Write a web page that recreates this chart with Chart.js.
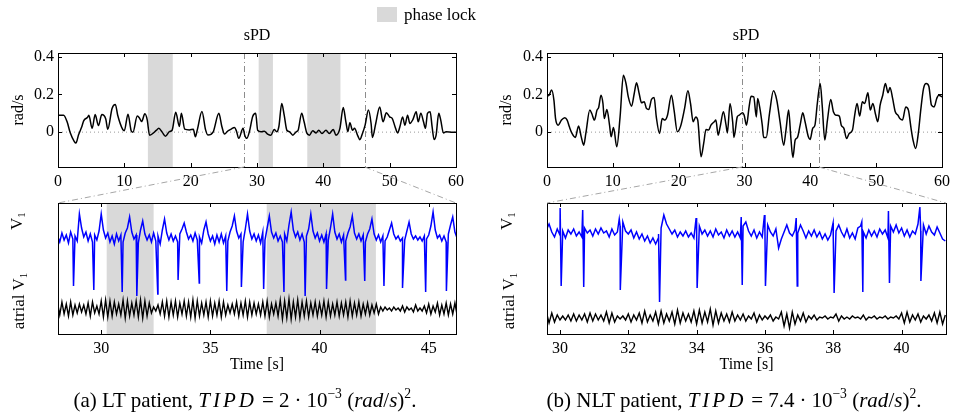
<!DOCTYPE html>
<html>
<head>
<meta charset="utf-8">
<script src="https://cdn.jsdelivr.net/npm/chart.js@4.4.0/dist/chart.umd.min.js"></script>
<style>
body { margin: 0; background: #fff; }
#page { position: relative; width: 955px; height: 414px; font-family: "Liberation Serif", "Times New Roman", serif; color: #000; overflow: hidden; }
canvas { position: absolute; }
.txt { position: absolute; white-space: nowrap; transform: translate(-50%, -50%); line-height: 1; }
.rot { transform: translate(-50%, -50%) rotate(-90deg); }
.math { font-style: italic; letter-spacing: 3px; }
.op { margin: 0 5px; }
sup { font-size: 0.65em; vertical-align: 0.6em; line-height: 0; }
sub { font-size: 0.65em; vertical-align: -0.3em; line-height: 0; }
#overlay { left: 0; top: 0; pointer-events: none; }
</style>
</head>
<body>
<div id="page">
  <canvas id="ltTop" width="480" height="190" style="left:0;top:0"></canvas>
  <canvas id="nltTop" width="475" height="190" style="left:480px;top:0"></canvas>
  <canvas id="ltZoom" width="480" height="224" style="left:0;top:190px"></canvas>
  <canvas id="nltZoom" width="475" height="224" style="left:480px;top:190px"></canvas>
  <canvas id="overlay" width="955" height="414"></canvas>

  <div style="position:absolute;left:377px;top:7px;width:20px;height:15px;background:#d9d9d9"></div>
  <div class="txt" style="left:440px;top:14px;font-size:17px">phase lock</div>
  <div class="txt" style="left:257px;top:35px;font-size:16px">sPD</div>
  <div class="txt" style="left:746px;top:35px;font-size:16px">sPD</div>

  <div class="txt rot" style="left:16px;top:221px;font-size:17px">V<sub>1</sub></div>
  <div class="txt rot" style="left:18px;top:301px;font-size:17px">atrial V<sub>1</sub></div>
  <div class="txt rot" style="left:506px;top:221px;font-size:17px">V<sub>1</sub></div>
  <div class="txt rot" style="left:508px;top:301px;font-size:17px">atrial V<sub>1</sub></div>

  <div class="txt" style="left:245px;top:400px;font-size:21px">(a) LT patient, <span class="math">TIPD</span><span class="op">=</span>2<span class="op">·</span>10<sup>−3</sup> (<i>rad</i>/<i>s</i>)<sup>2</sup>.</div>
  <div class="txt" style="left:734px;top:400px;font-size:21px">(b) NLT patient, <span class="math">TIPD</span><span class="op">=</span>7.4<span class="op">·</span>10<sup>−3</sup> (<i>rad</i>/<i>s</i>)<sup>2</sup>.</div>
</div>

<script>
// ---- data ----
const spdTicksX = [0, 10, 20, 30, 40, 50, 60];
const spdTicksY = [0, 0.2, 0.4];
const ltZoomTicks = [30, 35, 40, 45];
const nltZoomTicks = [30, 32, 34, 36, 38, 40];

// zoomed time windows (s)
const ltWindow = [28.02, 46.25];
const nltWindow = [29.62, 41.3];

// phase lock intervals (LT patient)
const ltLockStart = [13.55, 30.25, 37.58];
const ltLockEnd = [17.3, 32.4, 42.58];

// sPD, LT patient (rad/s)
const ltSpdTime = [0, 0.85, 1.36, 1.86, 2.46, 2.7, 3.1, 3.6, 3.87, 4.47, 4.65, 5.15, 5.6, 6.1, 6.6, 7.2, 7.5, 8.15, 8.65, 9.0,
  9.75, 10.0, 10.55, 11.05, 11.3, 11.95, 12.3, 12.6, 13.1, 13.45, 13.8, 14.3, 14.8, 15.2, 15.7, 16.2, 16.8, 17.2, 17.75, 18.3,
  18.6, 19.1, 19.8, 20.4, 20.7, 21.0, 21.7, 22.25, 22.6, 23.4, 24.25, 24.7, 25.1, 25.6, 26.1, 26.6, 26.9, 27.25, 27.9, 28.15,
  28.45, 28.85, 29.35, 29.8, 30.1, 30.6, 31.1, 31.6, 32.1, 32.6, 32.97, 33.3, 33.73, 34.1, 34.5, 34.9, 35.4, 35.9, 36.2, 36.74,
  37.1, 37.5, 37.9, 38.4, 38.9, 39.3, 39.8, 40.4, 40.9, 41.5, 41.9, 42.5, 43.0, 43.4, 43.7, 44.0, 44.4, 44.7, 45.2, 45.5,
  45.9, 46.3, 46.8, 47.2, 47.4, 47.9, 48.5, 49.0, 49.5, 50.0, 50.4, 50.8, 51.2, 51.55, 51.95, 52.3, 52.7, 53.05, 53.5, 54.0,
  54.3, 54.7, 55.1, 55.4, 55.7, 56.1, 56.4, 56.7, 57.0, 57.4, 57.7, 58.1, 58.5, 59.5, 60];
const ltSpdValue = [0.09, 0.09, 0.056, -0.005, -0.05, -0.058, -0.014, 0.03, 0.06, 0.079, 0.09, 0.02, 0.093, 0.035, 0.093, 0.07, 0.015, 0.126, 0.147, 0.09,
  0.015, 0.008, 0.095, 0.006, 0.0, 0.085, 0.074, 0.056, 0.097, 0.065, -0.016, -0.007, 0.009, 0.02, 0.0, -0.022, 0.003, 0.01, 0.105, 0.03,
  0.1, 0.016, 0.012, 0.016, -0.025, 0.012, 0.11, 0.012, -0.015, 0.002, 0.1, 0.03, -0.01, 0.006, 0.016, 0.025, 0.006, -0.033, 0.02, -0.016,
  -0.033, 0.002, 0.083, 0.1, 0.01, 0.002, 0.005, -0.01, -0.016, 0.014, 0.002, 0.03, 0.152, 0.09, 0.01, 0.002, -0.016, 0.002, 0.01, 0.1,
  0.055, -0.004, -0.016, 0.007, -0.004, 0.01, -0.007, 0.01, -0.007, 0.014, -0.016, 0.02, 0.131, 0.055, 0.002, 0.05, 0.01, 0.02, -0.02, -0.04,
  -0.007, 0.037, 0.117, 0.046, -0.028, 0.046, 0.134, 0.055, 0.103, 0.081, 0.072, 0.03, -0.004, 0.03, 0.081, 0.037, 0.09, 0.046, 0.067, 0.108,
  0.055, 0.1, 0.055, 0.02, 0.1, 0.108, 0.028, -0.039, -0.016, 0.1, 0.064, -0.004, 0.002, 0, 0];

// sPD, NLT patient (rad/s)
const nltSpdTime = [0, 0.3, 0.7, 1.05, 1.3, 1.7, 2.2, 2.7, 3.06, 3.4, 3.8, 4.3, 4.8, 5.2, 5.57, 5.9, 6.5, 6.8, 7.2, 7.6,
  7.85, 8.2, 8.5, 8.7, 9.1, 9.5, 9.74, 10.1, 10.6, 11.1, 11.6, 12.0, 12.35, 12.85, 13.25, 13.6, 14.0, 14.35, 14.76, 15.1,
  15.46, 15.86, 16.27, 16.6, 17.1, 17.5, 17.9, 18.3, 18.9, 19.3, 19.8, 20.3, 20.9, 21.4, 21.8, 22.2, 22.6, 22.9, 23.4, 23.8,
  24.15, 24.55, 24.9, 25.4, 25.65, 26.0, 26.3, 26.8, 27.2, 27.4, 27.8, 28.2, 28.4, 28.9, 29.2, 29.7, 29.95, 30.3, 30.7, 31.0,
  31.4, 31.8, 32.0, 32.3, 32.7, 32.9, 33.3, 33.8, 34.4, 34.9, 35.4, 35.95, 36.3, 36.7, 37.05, 37.35, 37.7, 38.05, 38.45, 38.85,
  39.2, 39.7, 39.96, 40.36, 40.7, 41.06, 41.5, 41.8, 42.2, 42.6, 43.1, 43.5, 43.9, 44.4, 44.7, 45.1, 45.5, 45.9, 46.4, 46.7,
  47.1, 47.5, 47.9, 48.25, 48.75, 49.1, 49.5, 49.9, 50.25, 50.6, 51.0, 51.4, 51.8, 52.1, 52.5, 52.9, 53.3, 53.6, 54.0, 54.5,
  54.9, 55.3, 55.6, 56.0, 56.4, 56.8, 57.2, 57.6, 58.0, 58.4, 58.8, 59.2, 59.5, 60.0];
const nltSpdValue = [0.19, 0.195, 0.223, 0.17, 0.072, 0.037, 0.064, 0.076, 0.064, 0.028, -0.007, -0.028, 0.032, -0.025, -0.069, -0.007, 0.117, 0.099, 0.064, 0.117,
  0.131, 0.196, 0.152, 0.072, 0.12, 0.037, -0.025, 0.025, -0.078, 0.081, 0.302, 0.258, 0.187, 0.138, 0.205, 0.262, 0.205, 0.156, 0.161, 0.126,
  0.12, 0.173, 0.184, 0.081, -0.007, 0.072, 0.064, 0.09, 0.196, 0.117, 0.002, 0.032, 0.126, 0.219, 0.152, 0.055, 0.081, 0.064, -0.131, -0.06,
  0.014, 0.011, 0.037, 0.055, 0.064, -0.016, 0.028, 0.108, 0.037, -0.004, 0.152, 0.055, -0.028, 0.081, 0.09, 0.103, 0.09, 0.037, 0.134, 0.19,
  0.187, 0.081, 0.179, 0.134, 0.037, -0.028, -0.028, 0.1, 0.219, 0.17, 0.055, -0.069, 0.011, 0.117, -0.034, -0.134, -0.042, -0.028, 0.037, 0.103,
  0.055, -0.025, -0.039, 0.02, 0.037, 0.152, 0.258, 0.143, -0.042, 0.064, 0.173, 0.108, 0.09, 0.085, 0.037, 0.02, -0.034, -0.007, 0.011, 0.081,
  0.152, 0.085, 0.161, 0.152, 0.209, 0.117, 0.152, 0.095, 0.055, 0.143, 0.196, 0.258, 0.209, 0.237, 0.179, 0.108, 0.09, 0.072, 0.064, 0.134,
  0.117, 0.02, -0.042, -0.087, -0.007, 0.126, 0.232, 0.258, 0.244, 0.143, 0.134, 0.179, 0.196, 0.187];

// LT ECG, sampled every 0.1 s from 28.0 s (arbitrary units, V1 trace offset above atrial trace)
const ltStart = 28.0;
const ltStep = 0.1;
const ltV1 = [
  9.8, 9.2, 10.1, 9.4, 9.9, 9.1, 10.2, 9.5, 9.8, 9.3,
  12.0, 10.6, 9.7, 10.2, 9.3, 10.0, 9.2, 9.9, 9.4, 10.3,
  12.0, 10.4, 9.6, 10.1, 9.2, 9.8, 9.0, 10.0, 9.3, 9.9,
  9.2, 10.1, 10.6, 11.7, 10.2, 9.5, 9.9, 9.1, 10.4, 11.3,
  10.0, 9.4, 9.9, 9.2, 10.1, 9.3, 9.8, 9.0, 10.4, 11.5,
  10.1, 9.4, 10.0, 9.3, 9.8, 9.2, 10.0, 10.5, 11.1, 10.2,
  9.5, 9.9, 9.3, 10.1, 9.4, 9.7, 9.1, 10.4, 11.2, 10.0,
  9.3, 9.8, 9.0, 9.9, 9.2, 10.0, 9.1, 9.8, 9.3, 10.2,
  10.8, 11.8, 10.3, 9.6, 10.0, 9.2, 10.5, 12.0, 10.3, 9.5,
  10.0, 9.3, 9.9, 9.1, 10.2, 9.4, 10.6, 11.8, 10.2, 9.6,
  10.1, 9.3, 9.8, 9.2, 10.0, 9.3, 10.9, 12.2, 10.4, 9.7,
  10.2, 9.4, 10.0, 9.2, 9.8, 10.5, 12.0, 10.3, 9.6, 10.1,
  9.3, 9.9, 9.2, 10.0, 9.4, 10.6, 12.0, 10.2, 9.5, 10.0,
  9.2, 9.9, 9.3, 10.1, 10.7, 11.8, 10.1, 9.5, 10.0, 9.3,
  9.9, 9.2, 10.0, 10.5, 11.5, 10.0, 9.4, 9.9, 9.2, 9.8,
  9.3, 9.7, 10.4, 11.1, 10.0, 9.5, 9.8, 9.3, 9.6, 9.4,
  10.3, 11.2, 10.0, 9.5, 9.8, 9.4, 9.7, 9.3, 9.8, 9.5,
  9.9, 10.8, 12.2, 10.4, 9.6, 9.9, 9.3, 9.8, 9.2, 10.0,
  10.9, 11.7, 10.2, 9.6];
const ltAtrial = [
  3.1, 1.9, 3.2, 2.0, 3.0, 1.8, 3.2, 1.9, 2.9, 2.1,
  3.0, 2.2, 2.9, 2.0, 3.1, 1.8, 3.2, 2.1, 2.8, 2.0,
  3.3, 1.7, 3.4, 1.7, 3.3, 1.8, 3.2, 2.0, 3.0, 1.9,
  3.4, 1.6, 3.3, 1.8, 3.1, 1.9, 3.3, 1.7, 3.4, 1.6,
  3.3, 1.8, 3.1, 2.1, 2.7, 2.3, 2.9, 2.0, 3.2, 1.8,
  3.3, 1.7, 3.2, 1.9, 3.3, 1.7, 3.1, 2.0, 3.3, 1.8,
  3.2, 1.7, 3.4, 1.6, 3.3, 1.8, 3.1, 1.9, 3.2, 1.7,
  3.3, 1.8, 3.1, 1.9, 3.3, 1.7, 3.2, 1.9, 2.9, 2.1,
  3.0, 2.0, 3.2, 1.8, 3.1, 1.9, 3.3, 1.7, 3.2, 1.9,
  3.1, 2.0, 3.0, 1.9, 3.2, 1.8, 3.3, 1.7, 3.0, 2.0,
  3.1, 1.8, 3.4, 1.5, 3.3, 1.6, 3.5, 1.5, 3.2, 1.7,
  3.4, 1.6, 3.2, 1.8, 3.3, 1.7, 3.1, 1.9, 3.2, 1.8,
  3.1, 1.9, 3.3, 1.7, 3.2, 1.8, 3.0, 1.9, 3.2, 1.8,
  3.1, 1.9, 3.2, 1.7, 3.3, 1.8, 3.1, 1.9, 3.2, 1.8,
  3.0, 2.0, 3.1, 1.9, 2.9, 2.1, 3.0, 2.0, 2.7, 2.3,
  2.7, 2.4, 2.6, 2.3, 2.7, 2.4, 2.6, 2.3, 2.8, 2.2,
  2.7, 2.4, 2.6, 2.2, 2.9, 2.3, 2.6, 2.3, 2.8, 2.1,
  3.0, 2.0, 2.8, 2.2, 3.1, 1.9, 2.9, 2.0, 3.1, 1.9,
  3.0, 2.0, 3.1, 1.9];
const ltSpikeTime = [28.73, 29.66, 30.96, 31.63, 32.59, 33.52, 34.49, 35.75, 36.42, 37.44, 38.37, 39.34, 40.32, 41.19, 42.07, 42.95, 43.8, 44.86, 45.81];
const ltSpikeDepth = [4.8, 4.4, 4.2, 3.8, 4.0, 5.4, 5.1, 4.3, 4.7, 4.5, 4.2, 3.8, 4.5, 5.4, 5.3, 4.8, 4.6, 4.2, 4.3];

// NLT ECG, sampled every 0.08 s from 29.6 s
const nltStart = 29.6;
const nltStep = 0.08;
const nltV1 = [
  10.4, 11.0, 10.2, 9.7, 10.5, 9.9, 10.3, 9.6, 10.4, 10.0,
  10.5, 9.8, 10.2, 9.7, 10.6, 10.1, 10.4, 9.8, 10.5, 10.0,
  10.6, 10.1, 10.3, 9.7, 10.5, 9.9, 10.2, 10.8, 11.2, 10.3,
  10.0, 10.4, 9.6, 10.2, 9.5, 10.0, 9.3, 9.8, 9.1, 9.6,
  9.0, 9.6, 10.6, 11.9, 11.0, 10.5, 10.0, 10.4, 9.7, 10.2,
  9.8, 10.3, 9.7, 10.1, 9.6, 10.3, 10.8, 10.0, 10.4, 9.8,
  10.3, 9.7, 10.5, 9.9, 10.2, 9.6, 10.4, 9.8, 10.3, 9.7,
  10.2, 9.6, 10.8, 11.2, 10.3, 9.8, 10.4, 9.6, 10.2, 9.7,
  10.3, 10.9, 10.2, 9.8, 10.5, 8.6, 9.5, 10.2, 10.9, 10.1,
  9.8, 10.4, 10.1, 10.9, 10.3, 9.6, 10.3, 9.8, 10.4, 9.7,
  10.2, 9.5, 10.0, 9.4, 9.9, 9.6, 10.3, 10.9, 10.2, 9.7,
  10.5, 9.6, 10.1, 9.5, 10.6, 10.8, 10.2, 9.6, 10.4, 9.8,
  10.3, 9.7, 10.5, 10.0, 10.4, 9.6, 10.8, 10.2, 10.9, 10.1,
  10.6, 9.8, 10.4, 9.7, 10.3, 10.0, 11.0, 10.3, 10.9, 10.0,
  10.8, 10.2, 9.9, 10.7, 10.1, 9.5, 9.3];
const nltAtrial = [
  2.2, 1.1, 2.1, 1.2, 1.9, 1.4, 1.8, 1.4, 1.9, 1.3,
  2.0, 1.3, 1.9, 1.4, 2.0, 1.2, 2.1, 1.3, 2.0, 1.4,
  1.9, 1.3, 2.2, 1.1, 2.1, 1.2, 1.8, 1.5, 1.8, 1.4,
  2.0, 1.2, 1.9, 1.4, 2.1, 1.1, 2.3, 1.2, 1.9, 1.3,
  2.2, 1.0, 2.3, 1.1, 2.0, 1.3, 2.2, 1.0, 2.4, 1.1,
  2.1, 1.3, 2.0, 1.2, 2.3, 1.0, 2.4, 1.1, 2.2, 1.2,
  2.5, 0.9, 2.3, 1.1, 2.1, 1.3, 2.0, 1.2, 2.2, 1.3,
  1.9, 1.4, 2.0, 1.3, 1.8, 1.5, 2.1, 1.2, 1.9, 1.4,
  1.8, 1.5, 1.9, 1.3, 1.7, 1.5, 2.2, 0.8, 2.0, 0.6,
  2.2, 1.0, 1.9, 1.3, 2.1, 1.2, 1.8, 1.5, 1.9, 1.4,
  1.7, 1.6, 1.8, 1.5, 1.7, 1.6, 2.0, 1.3, 1.8, 1.5,
  1.7, 1.5, 1.8, 1.6, 1.7, 1.5, 1.9, 1.4, 1.7, 1.6,
  1.8, 1.5, 1.7, 1.6, 1.8, 1.5, 1.7, 1.6, 1.8, 1.5,
  2.1, 1.1, 2.2, 1.2, 1.9, 1.4, 2.0, 1.2, 1.8, 1.5,
  1.9, 1.3, 2.1, 1.1, 2.2, 1.0, 1.9];
const nltSpikeTime = [30.02, 30.68, 31.75, 32.9, 34.0, 35.32, 36.0, 36.93, 38.01, 38.85, 39.63, 40.55];
const nltSpikeTop = [12.6, 12.4, 11.5, 10.0, 11.6, 11.7, 11.9, 11.6, 11.1, 11.2, 12.3, 12.7];
const nltSpikeDepth = [4.8, 4.7, 4.4, 3.2, 4.6, 4.9, 4.8, 4.8, 4.1, 4.2, 5.1, 5.3];

// ---- helpers ----
const FONT = "Liberation Serif";
const DASH_DOT = [6, 3, 1, 3];

function pairs(xs, ys) {
  return xs.map((x, i) => ({ x: x, y: ys[i] }));
}

function sampled(start, step, values) {
  return values.map((v, i) => ({ x: +(start + i * step).toFixed(3), y: v }));
}

// merge QRS spikes into the sampled V1 trace
function withSpikes(base, times, depths, tops) {
  const pts = base.slice();
  times.forEach((t, i) => {
    if (tops) pts.push({ x: t - 0.015, y: tops[i] });
    pts.push({ x: tops ? t + 0.015 : t, y: depths[i] });
  });
  return pts.sort((a, b) => a.x - b.x);
}

// gray phase-lock bands, drawn under the data
const lockPlugin = {
  id: 'lockBands',
  beforeDatasetsDraw(chart, args, opts) {
    const { ctx, chartArea: a, scales: { x } } = chart;
    ctx.save();
    if (opts.starts) {
      ctx.fillStyle = '#d9d9d9';
      opts.starts.forEach((s, i) => {
        const x0 = Math.max(a.left, x.getPixelForValue(s));
        const x1 = Math.min(a.right, x.getPixelForValue(opts.ends[i]));
        if (x1 > x0) ctx.fillRect(x0, a.top, x1 - x0, a.height);
      });
    }
    if (opts.window) {
      ctx.strokeStyle = '#8c8c8c';
      ctx.lineWidth = 1;
      ctx.setLineDash(DASH_DOT);
      opts.window.forEach(t => {
        const px = Math.round(x.getPixelForValue(t)) + 0.5;
        ctx.beginPath();
        ctx.moveTo(px, a.top);
        ctx.lineTo(px, a.bottom);
        ctx.stroke();
      });
    }
    ctx.restore();
  }
};

// matlab-like box with inward ticks
const framePlugin = {
  id: 'frame',
  afterDraw(chart, args, opts) {
    const { ctx, chartArea: a, scales } = chart;
    const L = 4;
    ctx.save();
    ctx.strokeStyle = '#000';
    ctx.lineWidth = 1;
    ctx.strokeRect(Math.round(a.left) + 0.5, Math.round(a.top) + 0.5, Math.round(a.width), Math.round(a.height));
    ctx.beginPath();
    scales.x.ticks.forEach(t => {
      const px = Math.round(scales.x.getPixelForValue(t.value)) + 0.5;
      ctx.moveTo(px, a.bottom); ctx.lineTo(px, a.bottom - L);
      ctx.moveTo(px, a.top); ctx.lineTo(px, a.top + L);
    });
    if (opts.yTicks) {
      scales.y.ticks.forEach(t => {
        const py = Math.round(scales.y.getPixelForValue(t.value)) + 0.5;
        ctx.moveTo(a.left, py); ctx.lineTo(a.left + L, py);
        ctx.moveTo(a.right, py); ctx.lineTo(a.right - L, py);
      });
    }
    ctx.stroke();
    ctx.restore();
  }
};

function makeChart(id, c) {
  return new Chart(document.getElementById(id), {
    type: 'line',
    data: { datasets: c.datasets },
    options: {
      responsive: false,
      animation: false,
      layout: { padding: c.padding },
      elements: { point: { radius: 0 } },
      plugins: {
        legend: { display: false },
        tooltip: { enabled: false },
        lockBands: { starts: c.lockStart, ends: c.lockEnd, window: c.window },
        frame: { yTicks: c.yTicks }
      },
      scales: {
        x: {
          type: 'linear', min: c.xMin, max: c.xMax,
          grid: { display: false, drawTicks: false },
          border: { display: false },
          afterBuildTicks: s => { s.ticks = c.xTicks.map(v => ({ value: v })); },
          afterFit: s => { s.height = c.xHeight; },
          ticks: { font: { family: FONT, size: 16 }, color: '#000', padding: 5, maxRotation: 0, autoSkip: false, callback: v => String(v) },
          title: c.xTitle ? { display: true, text: c.xTitle, color: '#000', font: { family: FONT, size: 16 }, padding: { top: 0, bottom: 40 } } : { display: false }
        },
        y: {
          min: c.yMin, max: c.yMax,
          grid: { display: false, drawTicks: false },
          border: { display: false },
          afterBuildTicks: s => { if (c.yTicks) s.ticks = c.yTicks.map(v => ({ value: v })); },
          afterFit: s => { s.width = c.yWidth; },
          ticks: { display: !!c.yTicks, font: { family: FONT, size: 16 }, color: '#000', padding: 4, callback: v => (v === 0 ? '0' : v.toFixed(1)) },
          title: c.yTitle ? { display: true, text: c.yTitle, color: '#000', font: { family: FONT, size: 16 }, padding: { top: c.yTitlePad, bottom: 0 } } : { display: false }
        }
      }
    },
    plugins: [lockPlugin, framePlugin]
  });
}

function spdSets(time, value) {
  return [
    { data: pairs(time, value), borderColor: '#000', borderWidth: 1.5, cubicInterpolationMode: 'monotone' },
    { data: pairs([0, 60], [0, 0]), borderColor: '#9a9a9a', borderWidth: 1, borderDash: [1, 3] }
  ];
}

function ecgSets(v1, atrial) {
  return [
    { data: v1, borderColor: '#0000ff', borderWidth: 1.5, tension: 0 },
    { data: atrial, borderColor: '#000', borderWidth: 1.4, tension: 0 }
  ];
}

const ltTop = makeChart('ltTop', {
  datasets: spdSets(ltSpdTime, ltSpdValue),
  padding: { top: 53, right: 24, left: 0, bottom: 0 },
  xMin: 0, xMax: 60, xTicks: spdTicksX, xHeight: 23,
  yMin: -0.185, yMax: 0.42, yTicks: spdTicksY, yWidth: 58, yTitle: 'rad/s', yTitlePad: 9,
  lockStart: ltLockStart, lockEnd: ltLockEnd, window: ltWindow
});

const nltTop = makeChart('nltTop', {
  datasets: spdSets(nltSpdTime, nltSpdValue),
  padding: { top: 53, right: 9, left: 0, bottom: 0 },
  xMin: 0, xMax: 60, xTicks: spdTicksX, xHeight: 23,
  yMin: -0.185, yMax: 0.42, yTicks: spdTicksY, yWidth: 67, yTitle: 'rad/s', yTitlePad: 17,
  window: nltWindow
});

const ltZoom = makeChart('ltZoom', {
  datasets: ecgSets(withSpikes(sampled(ltStart, ltStep, ltV1), ltSpikeTime, ltSpikeDepth), sampled(ltStart, ltStep, ltAtrial)),
  padding: { top: 13, right: 24, left: 0, bottom: 0 },
  xMin: ltWindow[0], xMax: ltWindow[1], xTicks: ltZoomTicks, xHeight: 80, xTitle: 'Time [s]',
  yMin: 0, yMax: 13.1, yWidth: 58,
  lockStart: ltLockStart, lockEnd: ltLockEnd
});

const nltZoom = makeChart('nltZoom', {
  datasets: ecgSets(withSpikes(sampled(nltStart, nltStep, nltV1), nltSpikeTime, nltSpikeDepth, nltSpikeTop), sampled(nltStart, nltStep, nltAtrial)),
  padding: { top: 13, right: 9, left: 0, bottom: 0 },
  xMin: nltWindow[0], xMax: nltWindow[1], xTicks: nltZoomTicks, xHeight: 80, xTitle: 'Time [s]',
  yMin: 0, yMax: 13.1, yWidth: 67
});

// dash-dot connectors from the zoom window in the sPD plot to the ECG box
function connect(top, bottom, win) {
  const ctx = document.getElementById('overlay').getContext('2d');
  const tc = top.canvas, bc = bottom.canvas;
  const ty = tc.offsetTop + top.chartArea.bottom;
  const by = bc.offsetTop + bottom.chartArea.top;
  const ends = [
    [tc.offsetLeft + top.scales.x.getPixelForValue(win[0]), bc.offsetLeft + bottom.chartArea.left],
    [tc.offsetLeft + top.scales.x.getPixelForValue(win[1]), bc.offsetLeft + bottom.chartArea.right]
  ];
  ctx.save();
  ctx.strokeStyle = '#a6a6a6';
  ctx.lineWidth = 1;
  ctx.setLineDash(DASH_DOT);
  ends.forEach(([x0, x1]) => {
    ctx.beginPath();
    ctx.moveTo(x0, ty);
    ctx.lineTo(x1, by);
    ctx.stroke();
  });
  ctx.restore();
}

connect(ltTop, ltZoom, ltWindow);
connect(nltTop, nltZoom, nltWindow);
</script>
</body>
</html>
